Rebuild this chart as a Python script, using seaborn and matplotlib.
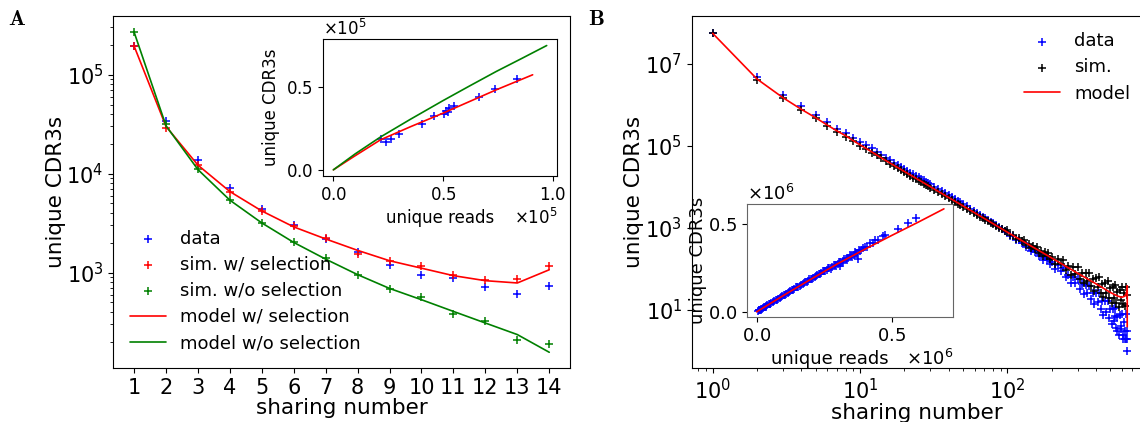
import seaborn as sns
import matplotlib.pyplot as plt
import matplotlib.ticker as ticker

# ---------------- panel A : sharing numbers 1..14 ----------------
share_a = [1, 2, 3, 4, 5, 6, 7, 8, 9, 10, 11, 12, 13, 14]
data_a = [1.95e5, 3.43e4, 1.36e4, 7.16e3, 4.4e3, 3.0e3, 2.2e3, 1.62e3, 1.2e3, 955, 891, 716, 614, 727]
sim_sel_a = [1.93e5, 2.89e4, 1.23e4, 6.5e3, 4.2e3, 2.94e3, 2.22e3, 1.56e3, 1.32e3, 1.16e3, 940, 837, 857, 1.16e3]
sim_nosel_a = [2.67e5, 3.2e4, 1.11e4, 5.45e3, 3.18e3, 2.02e3, 1.41e3, 955, 689, 563, 380, 325, 210, 192]
model_sel_a = [1.95e5, 3.0e4, 1.22e4, 6.6e3, 4.2e3, 2.9e3, 2.19e3, 1.68e3, 1.32e3, 1.11e3, 933, 830, 787, 1.07e3]
model_nosel_a = [2.7e5, 3.05e4, 1.1e4, 5.4e3, 3.18e3, 2.02e3, 1.37e3, 955, 693, 533, 406, 310, 237, 157]

# inset A : unique reads vs unique CDR3s per individual
reads_a = [0.2186e5, 0.238e5, 0.262e5, 0.297e5, 0.403e5, 0.460e5, 0.505e5, 0.512e5, 0.520e5, 0.527e5, 0.550e5, 0.663e5, 0.737e5, 0.835e5]
cdr3_a = [0.186e5, 0.171e5, 0.188e5, 0.218e5, 0.278e5, 0.327e5, 0.337e5, 0.357e5, 0.347e5, 0.371e5, 0.387e5, 0.443e5, 0.492e5, 0.549e5]
msel_reads_a = [0, 0.093e5, 0.214e5, 0.35e5, 0.5e5, 0.62e5, 0.742e5, 0.908e5]
msel_cdr3_a = [0, 0.080e5, 0.181e5, 0.26e5, 0.343e5, 0.413e5, 0.484e5, 0.575e5]
mnosel_reads_a = [0, 0.1e5, 0.214e5, 0.35e5, 0.5e5, 0.62e5, 0.742e5, 0.86e5, 0.972e5]
mnosel_cdr3_a = [0, 0.097e5, 0.198e5, 0.305e5, 0.419e5, 0.507e5, 0.595e5, 0.675e5, 0.752e5]

# ---------------- panel B : log-log sharing distribution ----------------
# sharing numbers 1..20
share_b = list(range(1, 21))
data_b = [5.6e7, 4.9e6, 1.75e6, 9.5e5, 5.7e5, 3.8e5, 2.6e5, 2.04e5, 1.58e5, 1.27e5,
          1.05e5, 8.7e4, 7.2e4, 6.2e4, 5.2e4, 4.5e4, 3.9e4, 3.5e4, 3.1e4, 2.8e4]
sim_b = [5.6e7, 4.1e6, 1.45e6, 7.4e5, 4.7e5, 3.1e5, 2.2e5, 1.7e5, 1.29e5, 1.02e5,
         8.4e4, 6.9e4, 5.9e4, 5.0e4, 4.2e4, 3.7e4, 3.2e4, 2.9e4, 2.6e4, 2.3e4]

# larger sharing numbers, values read as exponents off the log axis
share_b2 = [21, 22, 23, 24, 25, 26, 27, 28, 29, 30, 32, 34, 36, 38, 40, 42, 44, 46, 48, 50,
            53, 56, 59, 62, 65, 68, 71, 74, 77, 80, 84, 88, 92, 96,
            100, 105, 110, 115, 120, 125, 130, 135, 140, 145, 150, 155, 160, 165, 170, 175,
            180, 185, 190, 195, 200, 210, 220, 230, 240, 250, 260, 270, 280, 290, 300, 310,
            320, 330, 340, 350, 360, 370, 380, 390, 400, 410, 420, 430, 440, 450, 460, 470,
            480, 490, 500, 510, 520, 530, 540, 550, 560, 570, 580, 590, 600, 610, 620, 630,
            640, 650]
data_b2_log10 = [4.39, 4.35, 4.31, 4.27, 4.235, 4.20, 4.165, 4.13, 4.10, 4.065, 4.01, 3.955,
                 3.90, 3.85, 3.80, 3.755, 3.71, 3.665, 3.625, 3.58, 3.525, 3.47, 3.42, 3.37,
                 3.325, 3.275, 3.235, 3.19, 3.15, 3.115, 3.065, 3.02, 2.975, 2.93,
                 2.91, 2.815, 2.805, 2.697, 2.718, 2.634, 2.641, 2.539, 2.541, 2.447, 2.485,
                 2.406, 2.436, 2.315, 2.341, 2.23, 2.303, 2.208, 2.274, 2.124, 2.18, 1.999,
                 2.095, 1.942, 2.022, 1.794, 1.863, 1.665, 1.812, 1.654, 1.768, 1.518, 1.623,
                 1.39, 1.60, 1.41, 1.587, 1.268, 1.422, 1.139, 1.412, 1.186, 1.412, 1.031,
                 1.22, 0.889, 1.215, 0.963, 1.22, 0.807, 1.02, 0.65, 1.025, 0.737, 1.05,
                 0.549, 0.832, 0.39, 0.87, 0.54, 0.91, 0.38, 0.70, 0.30, 0.9, 0.48]
sim_b2_log10 = [4.31, 4.27, 4.225, 4.19, 4.15, 4.115, 4.08, 4.05, 4.015, 3.985, 3.925, 3.87,
                3.82, 3.77, 3.72, 3.68, 3.635, 3.595, 3.555, 3.52, 3.465, 3.415, 3.37, 3.325,
                3.28, 3.24, 3.20, 3.165, 3.13, 3.095, 3.05, 3.01, 2.97, 2.93,
                2.94, 2.828, 2.829, 2.732, 2.762, 2.681, 2.711, 2.592, 2.613, 2.502, 2.572,
                2.483, 2.541, 2.395, 2.445, 2.315, 2.417, 2.316, 2.394, 2.235, 2.30, 2.134,
                2.245, 2.11, 2.212, 1.987, 2.077, 1.865, 2.052, 1.888, 2.048, 1.764, 1.903,
                1.65, 1.904, 1.707, 1.912, 1.581, 1.758, 1.469, 1.776, 1.553, 1.802, 1.424,
                1.638, 1.309, 1.669, 1.42, 1.71, 1.283, 1.532, 1.16, 1.565, 1.30, 1.61,
                1.17, 1.44, 1.08, 1.495, 1.235, 1.56, 1.135, 1.42, 1.09, 1.555, 1.375]
# low outliers of the data near the largest sharing numbers
data_tail_x = [540, 560, 590, 610, 625, 635, 645, 648]
data_tail_y = [7, 3, 4, 2, 3, 2, 1, 2]
model_share_b = [1, 2, 3, 4, 5, 6, 7, 8, 9, 10, 12, 15, 20, 30, 50, 70, 100, 150, 200, 300,
                 400, 500, 560, 600, 630, 645, 652, 652]
model_b = [5.61e7, 4.31e6, 1.51e6, 7.85e5, 4.9e5, 3.24e5, 2.32e5, 1.78e5, 1.35e5, 1.07e5,
           7.2e4, 4.4e4, 2.4e4, 1.02e4, 3470, 1700, 794, 339, 186, 79,
           43.6, 26.9, 21.9, 20.4, 21.9, 26.3, 38.9, 3.9]

# inset B : unique reads vs unique CDR3s (x 1e6)
reads_b = [0.005, 0.008, 0.01, 0.012, 0.015, 0.018, 0.02, 0.025, 0.028, 0.03, 0.033, 0.035,
           0.04, 0.045, 0.048, 0.05, 0.055, 0.06, 0.065, 0.07, 0.075, 0.08, 0.085, 0.09, 0.095,
           0.1, 0.105, 0.11, 0.115, 0.12, 0.125, 0.13, 0.135, 0.14, 0.145, 0.15, 0.155, 0.16,
           0.165, 0.17, 0.175, 0.18, 0.185, 0.19, 0.195, 0.2, 0.205, 0.21, 0.215, 0.22, 0.225,
           0.23, 0.235, 0.24, 0.245, 0.25, 0.255, 0.26, 0.265, 0.27, 0.275, 0.28, 0.285, 0.29,
           0.295, 0.3, 0.305, 0.309, 0.31, 0.315, 0.32, 0.325, 0.33, 0.335, 0.34, 0.345, 0.35,
           0.355, 0.36, 0.365, 0.37, 0.372, 0.376, 0.38, 0.385, 0.395, 0.40, 0.41, 0.42, 0.432,
           0.44, 0.45, 0.469, 0.475, 0.524, 0.561, 0.59]
cdr3_b = [0.005, 0.009, 0.010, 0.010, 0.013, 0.018, 0.019, 0.021, 0.028, 0.029, 0.030, 0.032,
          0.038, 0.044, 0.043, 0.046, 0.053, 0.056, 0.063, 0.066, 0.068, 0.074, 0.081, 0.084,
          0.091, 0.094, 0.096, 0.101, 0.109, 0.112, 0.12, 0.122, 0.124, 0.13, 0.139, 0.141,
          0.143, 0.150, 0.152, 0.157, 0.166, 0.168, 0.170, 0.175, 0.185, 0.186, 0.188, 0.193,
          0.200, 0.203, 0.212, 0.213, 0.214, 0.220, 0.231, 0.231, 0.232, 0.238, 0.25, 0.249,
          0.247, 0.255, 0.268, 0.267, 0.264, 0.272, 0.286, 0.259, 0.284, 0.281, 0.29, 0.303,
          0.302, 0.298, 0.308, 0.322, 0.320, 0.314, 0.326, 0.34, 0.338, 0.33, 0.303, 0.35,
          0.352, 0.364, 0.368, 0.372, 0.39, 0.395, 0.41, 0.408, 0.43, 0.439, 0.472, 0.509, 0.537]
model_reads_b = [0, 0.1, 0.2, 0.3, 0.4, 0.5, 0.6, 0.694]
model_cdr3_b = [0, 0.094, 0.185, 0.274, 0.356, 0.435, 0.512, 0.587]

sns.set_style('ticks', {'axes.edgecolor': 'black', 'xtick.color': 'black', 'ytick.color': 'black',
                        'text.color': 'black', 'axes.labelcolor': 'black'})
plt.rcParams['font.family'] = ['DejaVu Sans']
plt.rcParams['mathtext.fontset'] = 'dejavusans'

fig = plt.figure(figsize=(11.4, 4.22), dpi=100)

mk = dict(marker='+', s=26, linewidth=1.1)
mkb = dict(marker='+', s=34, linewidth=1.1)

# ---- A main
axA = fig.add_axes([0.0994, 0.1273, 0.4006, 0.8348])
sns.scatterplot(x=share_a, y=data_a, color='b', label='data', ax=axA, **mk)
sns.scatterplot(x=share_a, y=sim_sel_a, color='r', label='sim. w/ selection', ax=axA, **mk)
sns.scatterplot(x=share_a, y=sim_nosel_a, color='g', label='sim. w/o selection', ax=axA, **mk)
sns.lineplot(x=share_a, y=model_sel_a, color='r', lw=1.2, label='model w/ selection', ax=axA)
sns.lineplot(x=share_a, y=model_nosel_a, color='g', lw=1.2, label='model w/o selection', ax=axA)
axA.set_yscale('log')
axA.set_xticks(share_a)
axA.tick_params(labelsize=15)
axA.set_xlabel('sharing number', fontsize=15.5, labelpad=0)
axA.set_ylabel('unique CDR3s', fontsize=15.5, labelpad=0)
h, l = axA.get_legend_handles_labels()
order = ['data', 'sim. w/ selection', 'sim. w/o selection', 'model w/ selection', 'model w/o selection']
axA.legend([h[l.index(o)] for o in order], order, loc='lower left', frameon=False,
           fontsize=13, labelspacing=0.45)

# ---- A inset
axAi = fig.add_axes([0.2831, 0.5829, 0.2058, 0.3239])
sns.scatterplot(x=reads_a, y=cdr3_a, color='b', ax=axAi, **mk)
sns.lineplot(x=msel_reads_a, y=msel_cdr3_a, color='r', lw=1.2, ax=axAi)
sns.lineplot(x=mnosel_reads_a, y=mnosel_cdr3_a, color='g', lw=1.2, ax=axAi)
axAi.ticklabel_format(style='sci', scilimits=(5, 5), useMathText=True)
axAi.xaxis.set_major_locator(ticker.MultipleLocator(0.5e5))
axAi.yaxis.set_major_locator(ticker.MultipleLocator(0.5e5))
axAi.tick_params(labelsize=12)
axAi.xaxis.get_offset_text().set_fontsize(12)
axAi.yaxis.get_offset_text().set_fontsize(12)
axAi.set_xlabel('unique reads', fontsize=12)
axAi.set_ylabel('unique CDR3s', fontsize=12)

# ---- B main
axB = fig.add_axes([0.607, 0.128, 0.3939, 0.834])
data_b_all = data_b + [10 ** v for v in data_b2_log10]
sim_b_all = sim_b + [10 ** v for v in sim_b2_log10]
sns.scatterplot(x=share_b + share_b2, y=data_b_all, color='b', label='data', ax=axB, **mkb)
sns.scatterplot(x=data_tail_x, y=data_tail_y, color='b', ax=axB, **mkb)
sns.scatterplot(x=share_b + share_b2, y=sim_b_all, color='k', label='sim.', ax=axB, **mkb)
sns.lineplot(x=model_share_b, y=model_b, color='r', lw=1.2, label='model', ax=axB,
             estimator=None, sort=False)
axB.set_xscale('log')
axB.set_yscale('log')
axB.set_xlim(0.724, 809)
axB.set_ylim(0.385, 1.48e8)
axB.set_yticks([1e1, 1e3, 1e5, 1e7])
axB.tick_params(labelsize=15)
axB.set_xlabel('sharing number', fontsize=15.5, labelpad=0)
axB.set_ylabel('unique CDR3s', fontsize=15.5, labelpad=1)
h, l = axB.get_legend_handles_labels()
order = ['data', 'sim.', 'model']
axB.legend([h[l.index(o)] for o in order], order, loc='upper right', frameon=False,
           fontsize=13, labelspacing=0.45, bbox_to_anchor=(1.013, 1.0))

# ---- B inset
axBi = fig.add_axes([0.6555, 0.2488, 0.1807, 0.2685])
sns.scatterplot(x=[v * 1e6 for v in reads_b], y=[v * 1e6 for v in cdr3_b], color='b', ax=axBi, **mkb)
sns.lineplot(x=[v * 1e6 for v in model_reads_b], y=[v * 1e6 for v in model_cdr3_b],
             color='r', lw=1.2, ax=axBi)
axBi.ticklabel_format(style='sci', scilimits=(6, 6), useMathText=True)
axBi.xaxis.set_major_locator(ticker.MultipleLocator(0.5e6))
axBi.yaxis.set_major_locator(ticker.MultipleLocator(0.5e6))
axBi.tick_params(labelsize=13)
axBi.xaxis.get_offset_text().set_fontsize(13)
axBi.yaxis.get_offset_text().set_fontsize(13)
axBi.set_xlabel('unique reads', fontsize=13)
axBi.set_ylabel('unique CDR3s', fontsize=13, labelpad=1)
axBi.xaxis.label.set_x(0.4)
for sp in axBi.spines.values():
    sp.set_edgecolor('0.4')

fig.text(0.007, 0.941, r'$\mathbf{A}$', fontsize=16, math_fontfamily='cm')
fig.text(0.516, 0.941, r'$\mathbf{B}$', fontsize=16, math_fontfamily='cm')

fig.savefig('out.png', dpi=100)
